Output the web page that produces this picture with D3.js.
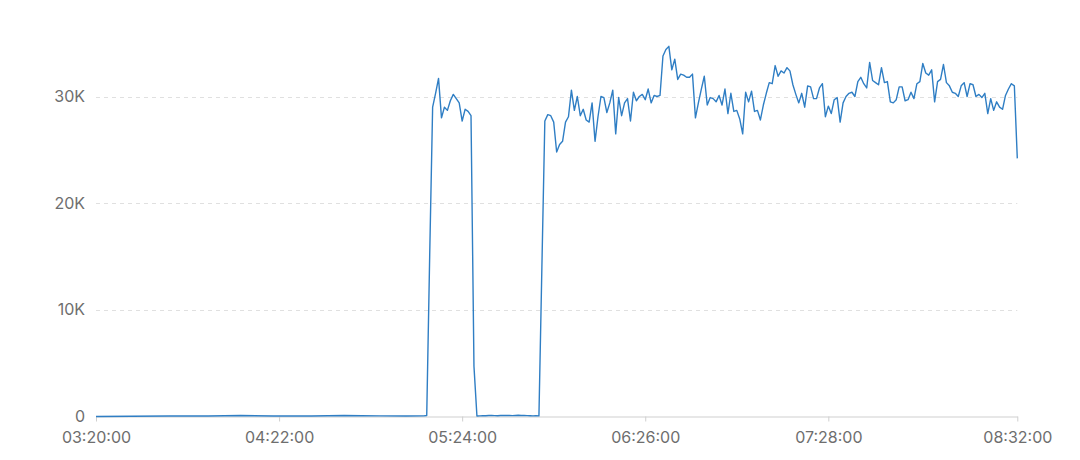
<!DOCTYPE html>
<html>
<head>
<meta charset="utf-8">
<script src="https://cdn.jsdelivr.net/npm/d3@7"></script>
<style>
  html, body { margin: 0; padding: 0; background: #fff; }
  svg { display: block; }
</style>
</head>
<body>
<svg id="chart" width="1080" height="460"></svg>
<script>
// Idle period (sparse samples, values near zero)
const idleTimes = ["03:20","03:32","03:45","03:58","04:09","04:20","04:33","04:44","04:56","05:05","05:11"];
const idleValues = [0, 30, 50, 40, 90, 50, 40, 90, 60, 40, 60];

// Per-minute samples from 05:12 to 08:32
const activeStart = "05:12";
const activeValues = [
  100,15000,29000,30300,31700,28000,29000,28700,29600,30200,
  29800,29400,27700,28800,28600,28200,4700,50,60,80,
  70,90,100,80,70,90,110,100,90,80,
  100,120,100,90,80,70,60,80,60,14000,
  27700,28300,28200,27600,24800,25500,25800,27600,28100,30600,
  28700,30000,28200,28800,27800,27600,29400,25800,28100,30000,
  29900,28500,29400,30600,26500,29900,28200,29400,29800,27700,
  30400,29600,30000,30200,29700,30700,29400,30100,30000,30100,
  33800,34400,34700,32500,33500,31600,32100,32000,31800,31800,
  32100,28000,29400,30700,31900,29200,29900,29800,29500,30100,
  29200,30700,28400,30300,28600,28700,27900,26500,30400,29500,
  30500,28600,28700,27800,29200,30300,31300,31200,32900,31900,
  32400,32200,32700,32400,31100,30200,29400,30300,29000,31000,
  30900,29800,29800,30800,31200,28100,29100,28400,29700,29900,
  27600,29400,30000,30300,30400,30000,31400,31800,31200,30800,
  33200,31500,31300,31100,32700,31300,31400,29500,29400,29700,
  30900,30900,29600,29700,30400,29800,31200,31400,33100,32200,
  32000,32500,29500,31400,31600,33000,31300,31000,30400,30300,
  30000,31000,31300,30000,31200,31100,30000,30200,29900,30300,
  28400,29800,28700,29500,29000,28800,30100,30700,31200,31000,
  24200
];

const xTickLabels = ["03:20:00","04:22:00","05:24:00","06:26:00","07:28:00","08:32:00"];
const yTickValues = [0, 10000, 20000, 30000];
const yTickLabels = ["0","10K","20K","30K"];
const xStart = "03:20:00", xEnd = "08:32:00";

const parse = d3.timeParse("%Y-%m-%d %H:%M:%S");
const toDate = s => parse("2024-01-01 " + (s.length === 5 ? s + ":00" : s));

const data = [];
idleTimes.forEach((t, i) => data.push({ t: toDate(t), v: idleValues[i] }));
const start = toDate(activeStart);
activeValues.forEach((v, i) => data.push({ t: d3.timeMinute.offset(start, i), v }));

const svg = d3.select("#chart");
const x = d3.scaleTime().domain([toDate(xStart), toDate(xEnd)]).range([96, 1017.3]);
const y = d3.scaleLinear().domain([0, 30000]).range([416.5, 96.5]);

const font = "Inter, 'Liberation Sans', Arial, sans-serif";
const textColor = "#6e6e6e";

// gridlines
svg.append("g").selectAll("line")
  .data(yTickValues.filter(v => v > 0))
  .join("line")
  .attr("x1", x.range()[0]).attr("x2", x.range()[1])
  .attr("y1", d => Math.round(y(d)) + 0.5).attr("y2", d => Math.round(y(d)) + 0.5)
  .attr("stroke", "#e0e0e0").attr("stroke-width", 1)
  .attr("stroke-dasharray", "4,4");

// y axis labels
const yAxis = d3.axisLeft(y).tickValues(yTickValues)
  .tickFormat((d, i) => yTickLabels[i]).tickSize(0).tickPadding(11);
const gy = svg.append("g").attr("transform", "translate(96,0)").call(yAxis);
gy.select(".domain").remove();
gy.selectAll("text").attr("font-family", font).attr("font-size", 16).attr("fill", textColor);

// x axis
const xTickDates = xTickLabels.map(toDate);
const xAxis = d3.axisBottom(x).tickValues(xTickDates)
  .tickFormat((d, i) => xTickLabels[i]).tickSizeInner(5).tickSizeOuter(0).tickPadding(10);
const gx = svg.append("g").attr("transform", "translate(0,416.5)").call(xAxis);
gx.select(".domain").attr("stroke", "#cfcfcf");
gx.selectAll(".tick line").attr("stroke", "#cfcfcf");
gx.selectAll("text").attr("font-family", font).attr("font-size", 16).attr("fill", textColor);

// line
const line = d3.line().x(d => x(d.t)).y(d => y(d.v));
svg.append("path").datum(data)
  .attr("fill", "none")
  .attr("stroke", "#2f7ec4")
  .attr("stroke-width", 1.4)
  .attr("stroke-linejoin", "round")
  .attr("d", line);
</script>
</body>
</html>
